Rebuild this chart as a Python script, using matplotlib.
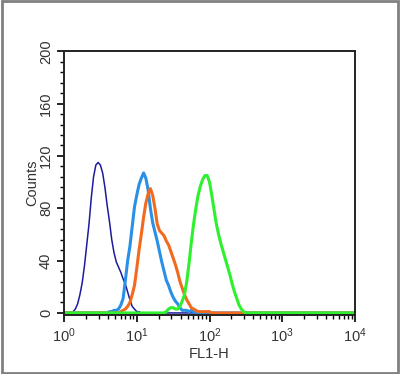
import matplotlib.pyplot as plt
from matplotlib.patches import Rectangle
from matplotlib.ticker import MultipleLocator, LogLocator
import numpy as np

plt.rcParams['font.family'] = ['Liberation Sans', 'DejaVu Sans']

# 32 channels per decade, 4 decades
n_channels = 129
per_decade = 32

navy_start = 3
navy_counts = [0, 1, 3, 7, 14, 23, 36, 52, 68, 88, 104, 113, 115, 113, 107, 96,
               82, 70, 56, 46, 39, 35, 31, 26, 22, 16, 10, 5, 3, 1, 1, 0]

blue_start = 20
blue_counts = [1, 1, 2, 2, 3, 6, 11, 25, 40, 51, 66, 81, 90, 98, 103, 107,
               103, 94, 80, 69, 62, 55, 47, 39, 32, 25, 21, 16, 12, 9, 7, 4,
               2, 2, 2, 1, 2, 1, 0]

orange_start = 24
orange_counts = [0, 1, 2, 3, 5, 8, 14, 21, 34, 48, 60, 73, 84, 91, 95, 90,
                 80, 68, 63, 61, 59, 55, 52, 47, 42, 37, 31, 24, 19, 14, 10, 7,
                 4, 3, 2, 1, 1, 1, 1, 1, 1, 0]

green_start = 44
green_counts = [0, 1, 3, 4, 4, 3, 3, 5, 9, 14, 24, 38, 54, 68, 80, 90,
                97, 102, 105, 105, 100, 90, 79, 68, 60, 53, 47, 41, 35, 29, 22, 16,
                11, 6, 3, 1, 0]

series = [
    (navy_start, navy_counts, '#1c1c9c', 1.1),
    (blue_start, blue_counts, '#2a90e6', 2.2),
    (orange_start, orange_counts, '#f26a1e', 2.2),
    (green_start, green_counts, '#2ef02e', 2.2),
]

fig = plt.figure(figsize=(4.0, 3.74), dpi=100)
ax = fig.add_axes([0.16, 0.158, 0.7275, 0.705])

x = 10 ** (np.arange(n_channels) / per_decade)
for start, counts, color, lw in series:
    y = np.zeros(n_channels)
    y[start:start + len(counts)] = counts
    ax.plot(x, y, color=color, lw=lw, solid_joinstyle='round')

ax.set_xscale('log')
ax.set_xlim(1, 1e4)
ax.set_ylim(-1.5, 200)
ax.xaxis.set_major_locator(LogLocator(base=10, numticks=10))
ax.xaxis.set_minor_locator(LogLocator(base=10, subs=np.arange(2, 10), numticks=20))
ax.yaxis.set_major_locator(MultipleLocator(40))
ax.yaxis.set_minor_locator(MultipleLocator(8))

ax.tick_params(which='major', direction='out', length=5, width=1.2,
               labelsize=10.5, labelcolor='#333333')
ax.tick_params(which='minor', direction='out', length=3, width=1.0)
ax.tick_params(axis='y', pad=3)
for lab in ax.get_yticklabels():
    lab.set_rotation(90)
    lab.set_va('center')

for sp in ax.spines.values():
    sp.set_linewidth(1.4)
    sp.set_color('#222222')

ax.set_xlabel('FL1-H', fontsize=10.5, color='#333333', labelpad=1)
ax.set_ylabel('Counts', fontsize=10.5, color='#333333', labelpad=0)

fig.patches.append(Rectangle((0.004, 0.004), 0.992, 0.992, transform=fig.transFigure,
                             fill=False, edgecolor='#808080', lw=2.0))

fig.savefig('out.png', dpi=100)
